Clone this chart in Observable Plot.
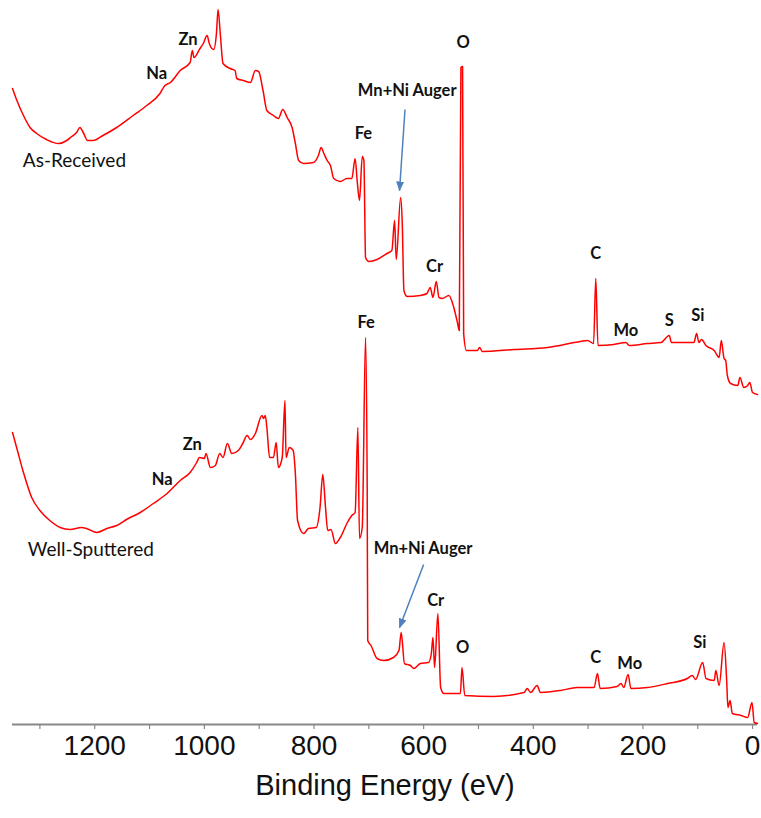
<!DOCTYPE html>
<html>
<head>
<meta charset="utf-8">
<script src="https://cdn.jsdelivr.net/npm/d3@7"></script>
<script src="https://cdn.jsdelivr.net/npm/@observablehq/plot@0.6"></script>
<style>
  html, body { margin: 0; padding: 0; background: #fff; }
  #chart svg { display: block; }
</style>
</head>
<body>
<div id="chart"></div>
<script>
// As-Received survey spectrum: binding energy (eV) and offset intensity (a.u.)
const asReceivedEnergy = [1350,1342,1330,1318,1306,1288,1266,1251,1242,1233,1227,1221,1213,1203,1185,1160,1130,1105,1081,1072,1062,1044,1026,1022,1019,1008,1002,995,991,983,978,975,971,966,953,944,941,929,916,907,901,893,886,874,865,857,849,840,834,828,819,801,792,787,782,776,770,764,752,740,731,725,721,717,712,709,706,700,685,667,658,653,650,642,639,636,630,606,594,588,583,577,572,566,554,545,538,535,532,529,527,522,502,498,493,435,374,314,301,290,286,282,253,231,225,192,167,152,148,107,102,98,93,85,70,61,57,52,49,46,40,27,23,16,9,5,0,-9];
const asReceivedCounts = [636,624,609,597,591,585,581,584,588,592,597,592,584,584,589,597,609,619,631,639,642,654,662,674,667,676,681,689,681,675,691,715,691,661,656,654,646,644,642,654,653,634,614,609,606,615,607,597,581,564,561,562,569,577,571,564,559,546,543,546,546,566,542,524,568,564,467,463,465,471,474,504,465,527,501,434,428,429,431,437,427,443,427,426,429,417,401,394,657,658,391,374,374,377,373,375,377,383,384,381,446,379,380,382,379,381,382,389,382,382,391,382,385,379,374,367,384,366,364,349,341,339,347,337,339,342,332,330];

// Well-Sputtered survey spectrum
const sputteredEnergy = [1350,1342,1330,1315,1300,1282,1263,1245,1224,1215,1196,1178,1160,1142,1117,1093,1068,1044,1026,1014,1009,1000,997,989,980,972,966,958,950,938,930,922,916,907,895,892,889,886,881,874,869,865,858,853,851,845,838,834,830,819,810,796,789,784,779,775,769,761,752,740,731,725,720,717,712,706,703,702,696,685,673,655,645,641,635,624,618,606,591,586,583,580,574,569,563,533,530,525,472,417,411,405,393,387,350,320,289,283,278,247,240,235,227,222,192,155,119,110,104,91,85,70,67,61,52,47,45,41,37,21,9,1,-3,-9];
const sputteredCounts = [292,276,252,227,214,204,197,195,197,196,192,196,199,205,212,221,231,244,252,262,267,266,271,257,259,271,267,281,271,274,281,289,285,291,309,306,309,297,267,267,282,257,267,324,267,277,274,251,204,191,196,197,217,250,217,194,195,181,187,201,209,212,297,186,197,387,237,84,79,66,64,67,74,92,61,59,56,61,62,71,87,57,111,37,31,31,57,29,28,32,36,32,39,32,34,37,37,51,36,38,41,37,50,36,37,41,46,49,45,62,46,44,54,39,82,41,17,24,11,9,7,22,2,1];

// Peak labels
const labelText   = ["Zn","Na","O","Mn+Ni Auger","Fe","Cr","C","Mo","S","Si",
                     "Fe","Zn","Na","Mn+Ni Auger","Cr","O","C","Mo","Si"];
const labelEnergy = [1030,1087,528,630,710,580,286,231,152,100,
                     705,1022,1077,601,578,529,286,224,96];
const labelCounts = [685,651,682,634,591,458,471,394,404,409,
                     402,280,245,176,124,77,67,61,82];

// Sample names
const sampleNames  = ["As-Received","Well-Sputtered"];
const sampleEnergy = [1237,1207];
const sampleCounts = [564,175];

// Auger arrows (from label to peak)
const arrowEnergyStart = [634,600];
const arrowCountsStart = [615,160];
const arrowEnergyEnd   = [644,644];
const arrowCountsEnd   = [534,97];

const majorTicks = d3.range(0, 1201, 200);
const minorTicks = d3.range(0, 1301, 100);

const seriesA = asReceivedEnergy.map((e, i) => ({e, c: asReceivedCounts[i]}));
const seriesB = sputteredEnergy.map((e, i) => ({e, c: sputteredCounts[i]}));
const labels = labelText.map((t, i) => ({t, e: labelEnergy[i], c: labelCounts[i]}));
const samples = sampleNames.map((t, i) => ({t, e: sampleEnergy[i], c: sampleCounts[i]}));
const arrows = arrowEnergyStart.map((e, i) => ({x1: e, y1: arrowCountsStart[i], x2: arrowEnergyEnd[i], y2: arrowCountsEnd[i]}));

const arrowColor = "#4f81bd";

function triMarker(color, context) {
  const ns = "http://www.w3.org/2000/svg";
  const doc = (context && context.document) || document;
  const m = doc.createElementNS(ns, "marker");
  m.setAttribute("viewBox", "-5 -5 10 10");
  m.setAttribute("markerWidth", "10");
  m.setAttribute("markerHeight", "10");
  m.setAttribute("markerUnits", "userSpaceOnUse");
  m.setAttribute("orient", "auto");
  m.setAttribute("refX", "4");
  m.setAttribute("refY", "0");
  const p = doc.createElementNS(ns, "path");
  p.setAttribute("d", "M-5,-4L5,0L-5,4Z");
  p.setAttribute("fill", arrowColor);
  p.setAttribute("stroke", "none");
  m.appendChild(p);
  return m;
}

function build(useMarker) {
  const arrowMark = useMarker
    ? Plot.link(arrows, {x1: "x1", y1: "y1", x2: "x2", y2: "y2", stroke: arrowColor, strokeWidth: 1.5, markerEnd: triMarker})
    : Plot.arrow(arrows, {x1: "x1", y1: "y1", x2: "x2", y2: "y2", stroke: arrowColor, strokeWidth: 1.5, headLength: 9, headAngle: 50});
  return Plot.plot({
    width: 761,
    height: 818,
    marginTop: 4,
    marginBottom: 94,
    marginLeft: 12,
    marginRight: 4,
    style: {fontFamily: "'Liberation Sans', Arial, sans-serif", background: "#fff"},
    x: {domain: [1350, -9], axis: null},
    y: {domain: [0, 720], axis: null},
    marks: [
      Plot.ruleY([0], {stroke: "#888", strokeWidth: 2}),
      Plot.axisX(minorTicks, {tickSize: 5, tickFormat: () => "", color: "#888", strokeWidth: 1.2, label: null}),
      Plot.axisX(majorTicks, {tickSize: 0, tickPadding: 11, fontSize: 28, fill: "#111", tickFormat: d => String(d), label: null}),
      Plot.text(["Binding Energy (eV)"], {frameAnchor: "bottom", dy: 70, fontSize: 29, fill: "#111"}),
      Plot.line(seriesA, {x: "e", y: "c", stroke: "#f00", strokeWidth: 1.5, curve: "monotone-x"}),
      Plot.line(seriesB, {x: "e", y: "c", stroke: "#f00", strokeWidth: 1.5, curve: "monotone-x"}),
      Plot.text(labels, {x: "e", y: "c", text: "t", fontSize: 16.5, fontWeight: "bold", fontFamily: "Lato, 'Open Sans', sans-serif", fill: "#111"}),
      Plot.text(samples, {x: "e", y: "c", text: "t", fontSize: 19, fontFamily: "Lato, 'Open Sans', sans-serif", fill: "#111"}),
      arrowMark
    ]
  });
}

let chart;
try { chart = build(true); } catch (e) { chart = build(false); }
document.getElementById("chart").appendChild(chart);
</script>
</body>
</html>
